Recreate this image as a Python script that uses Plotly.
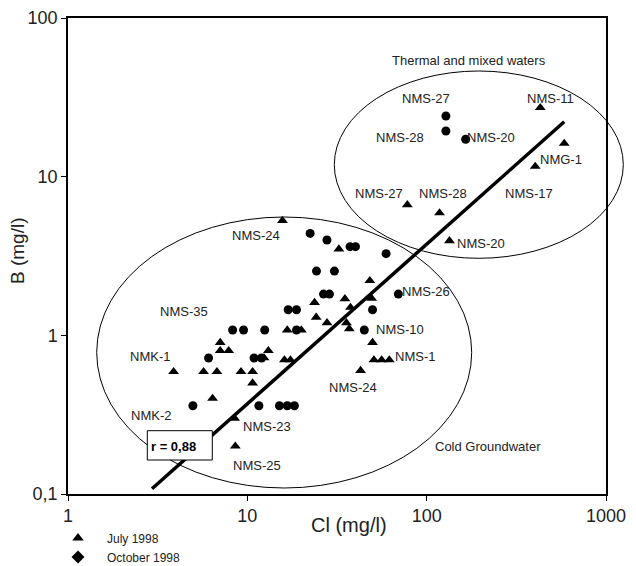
import plotly.graph_objects as go

# ---- Data ----
july_cl = [3.88, 5.70, 6.77, 9.22, 10.7, 10.7, 6.40, 7.06, 7.06, 7.87,
           8.49, 8.57, 13.1, 12.4, 16.1, 17.4, 16.7, 20.0, 15.7, 23.7,
           24.2, 27.8, 32.4, 35.0, 35.7, 37.0, 37.6, 48.2, 49.3, 49.9,
           50.8, 56.1, 61.9, 42.8, 78.0, 118, 134, 430, 585, 403]
july_b = [0.59, 0.59, 0.59, 0.59, 0.59, 0.50, 0.40, 0.90, 0.80, 0.80,
          0.30, 0.20, 0.80, 0.72, 0.70, 0.70, 1.08, 1.08, 5.29, 1.61,
          1.30, 1.20, 3.50, 1.70, 1.20, 1.10, 1.50, 2.21, 1.71, 0.90,
          0.70, 0.70, 0.70, 0.60, 6.65, 5.91, 3.94, 27.2, 16.2, 11.6]

oct_cl = [4.97, 6.08, 8.28, 9.53, 12.5, 11.6, 15.1, 16.7, 18.3, 10.9,
          12.0, 18.8, 16.9, 18.8, 22.4, 27.8, 37.4, 40.1, 59.4, 24.3,
          30.6, 26.6, 28.7, 69.5, 49.9, 44.9, 128, 128, 165]
oct_b = [0.36, 0.72, 1.08, 1.08, 1.08, 0.36, 0.36, 0.36, 0.36, 0.72,
         0.72, 1.08, 1.45, 1.45, 4.39, 3.99, 3.62, 3.62, 3.27, 2.54,
         2.54, 1.82, 1.82, 1.82, 1.45, 1.08, 24.1, 19.4, 17.2]

fit_cl = [2.94, 585]
fit_b = [0.108, 22.2]

x_tickvals = [1, 10, 100, 1000]
x_ticktext = ["1", "10", "100", "1000"]
y_tickvals = [0.1, 1, 10, 100]
y_ticktext = ["0,1", "1", "10", "100"]

# ---- Layout geometry ----
W, H = 636, 566
L, R, T, B = 68, 30, 18, 72
PW, PH = W - L - R, H - T - B


def px(xp):
    return (xp - L) / PW


def py(yp):
    return (H - B - yp) / PH


FONT = "Liberation Sans, Arial, sans-serif"
TXT = "#222222"

fig = go.Figure()

fig.add_trace(go.Scatter(x=fit_cl, y=fit_b, mode="lines",
                         line=dict(color="black", width=3.5),
                         showlegend=False, hoverinfo="skip"))
fig.add_trace(go.Scatter(x=july_cl, y=july_b, mode="markers",
                         marker=dict(symbol="triangle-up", size=9.5, color="black"),
                         showlegend=False))
fig.add_trace(go.Scatter(x=oct_cl, y=oct_b, mode="markers",
                         marker=dict(symbol="circle", size=9, color="black"),
                         showlegend=False))
# legend entries (as in the original: triangle and diamond)
fig.add_trace(go.Scatter(x=[None], y=[None], mode="markers", name="July 1998",
                         marker=dict(symbol="triangle-up", size=10, color="black")))
fig.add_trace(go.Scatter(x=[None], y=[None], mode="markers", name="October 1998",
                         marker=dict(symbol="diamond", size=10, color="black")))

shapes = [
    # Cold groundwater ellipse
    dict(type="circle", xref="paper", yref="paper",
         x0=px(96.7), x1=px(471.7), y0=py(488), y1=py(217),
         line=dict(color="black", width=1), layer="below"),
    # Thermal ellipse
    dict(type="circle", xref="paper", yref="paper",
         x0=px(334.3), x1=px(623.3), y0=py(258.3), y1=py(71),
         line=dict(color="black", width=1), layer="below"),
    # r box
    dict(type="rect", xref="paper", yref="paper",
         x0=px(147.3), x1=px(212.3), y0=py(460), y1=py(430.7),
         line=dict(color="black", width=1), fillcolor="white", layer="above"),
]

labels = [
    ("Thermal and mixed waters", 468.5, 60),
    ("NMS-27", 425.8, 98.3), ("NMS-11", 550, 98.3),
    ("NMS-28", 400, 137.3), ("NMS-20", 491, 137.3),
    ("NMG-1", 561.3, 159.3),
    ("NMS-27", 378.8, 193.3), ("NMS-28", 443.3, 193.3), ("NMS-17", 528.5, 193.3),
    ("NMS-20", 480.8, 243.3),
    ("NMS-24", 256.3, 235),
    ("NMS-35", 183.7, 311.7),
    ("NMK-1", 150, 356.7),
    ("NMK-2", 150.8, 415),
    ("NMS-23", 266.7, 426.7),
    ("NMS-25", 256.5, 465),
    ("NMS-26", 425.7, 291.7),
    ("NMS-10", 400.2, 329),
    ("NMS-1", 414.7, 356.7),
    ("NMS-24", 352.8, 387.3),
    ("Cold Groundwater", 487.7, 446.7),
]
ann = []
for t, x, y in labels:
    ann.append(dict(text=t, x=px(x), y=py(y), xref="paper", yref="paper",
                    showarrow=False, xanchor="center", yanchor="middle",
                    font=dict(size=13, color=TXT, family=FONT)))
ann.append(dict(text="<b>r = 0,88</b>", x=px(148.5), y=py(446.7), xref="paper",
                yref="paper", showarrow=False, xanchor="left", yanchor="middle",
                font=dict(size=13, color="black", family=FONT)))
ann.append(dict(text="Cl (mg/l)", x=px(349), y=py(525), xref="paper", yref="paper",
                showarrow=False, xanchor="center", yanchor="middle",
                font=dict(size=20, color=TXT, family=FONT)))
ann.append(dict(text="B (mg/l)", x=px(17), y=py(251), xref="paper", yref="paper",
                showarrow=False, xanchor="center", yanchor="middle", textangle=-90,
                font=dict(size=19, color=TXT, family=FONT)))

fig.update_layout(
    width=W, height=H,
    margin=dict(l=L, r=R, t=T, b=B, autoexpand=False),
    paper_bgcolor="white", plot_bgcolor="white",
    font=dict(family=FONT, color=TXT),
    shapes=shapes, annotations=ann,
    showlegend=True,
    legend=dict(x=px(49), y=py(523.5), xanchor="left", yanchor="top",
                itemwidth=48, font=dict(size=12, color=TXT, family=FONT),
                bgcolor="rgba(0,0,0,0)", borderwidth=0),
)
fig.update_xaxes(type="log", range=[0, 3], tickvals=x_tickvals, ticktext=x_ticktext,
                 showgrid=False, zeroline=False, showline=True, linecolor="black",
                 linewidth=1.5, mirror=True, ticks="outside", ticklen=5,
                 tickcolor="black", tickfont=dict(size=18, color=TXT, family=FONT))
fig.update_yaxes(type="log", range=[-1, 2], tickvals=y_tickvals, ticktext=y_ticktext,
                 showgrid=False, zeroline=False, showline=True, linecolor="black",
                 linewidth=1.5, mirror=True, ticks="outside", ticklen=5,
                 tickcolor="black", tickfont=dict(size=18, color=TXT, family=FONT))

fig.write_html("out.html")
